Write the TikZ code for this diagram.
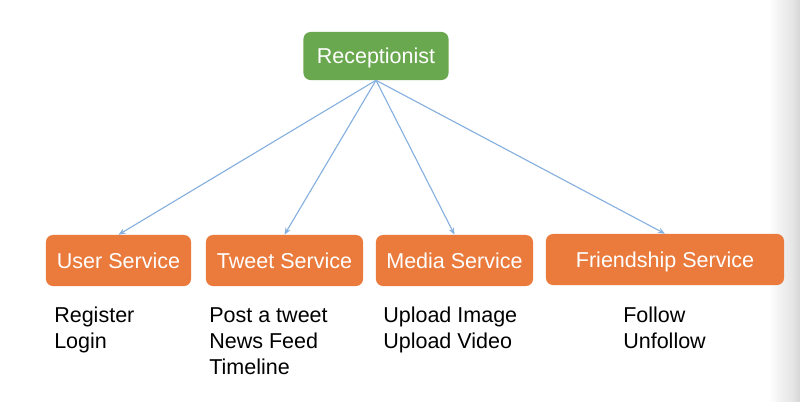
\documentclass[tikz,border=0pt]{standalone}
\usepackage{fontspec}
\setmainfont{Liberation Sans}
\usetikzlibrary{arrows.meta,positioning}
\definecolor{recepgreen}{HTML}{6AA84F}
\definecolor{serviceorange}{HTML}{EA7B3C}
\definecolor{linkblue}{HTML}{86B0E0}
\tikzset{
  diagram/.style={
    x=0.025cm, y=-0.025cm,
    box/.style={rounded corners=5pt, text=white, inner sep=0pt,
        text height=11pt, text depth=0pt,
        font={\fontsize{15.3}{18.5}\selectfont}},
    recep box/.style={box, fill=recepgreen, minimum width=3.625cm, minimum height=1.2cm},
    service box/.style={box, fill=serviceorange, minimum height=1.275cm},
    link/.style={linkblue, line width=0.8pt, -{Stealth[length=5pt,width=4pt]}},
    task list/.style={anchor=north west, align=left, inner sep=0pt,
        font={\fontsize{15.3}{18.5}\selectfont}},
  }
}

\begin{document}
\begin{tikzpicture}[diagram]
    \fill[white] (0,0) rectangle (800,401);
    \useasboundingbox (0,0) rectangle (800,401);
    % slide edge
    \fill[left color=white, right color=black!10] (768,0) rectangle (792,401);
    \fill[left color=black!10, right color=black!16] (792,0) rectangle (800,401);

    \node[recep box] (recep) at (376,56) {Receptionist};

    \node[service box, minimum width=3.625cm] (user)   at (118.5,260.5) {User Service};
    \node[service box, minimum width=3.925cm] (tweet)  at (284.5,260.5) {Tweet Service};
    \node[service box, minimum width=3.925cm] (media)  at (454.5,260.5) {Media Service};
    \node[service box, minimum width=5.95cm]  (friend) at (665,259.5) {Friendship Service};

    \foreach \s in {user,tweet,media,friend}
        \draw[link] (recep.south) -- (\s.north);

    \node[task list] (user tasks)   at (54,307)  {Register\\Login};
    \node[task list] (tweet tasks)  at (209,307) {Post a tweet\\News Feed\\Timeline};
    \node[task list] (media tasks)  at (383,307) {Upload Image\\Upload Video};
    \node[task list] (friend tasks) at (623,307) {Follow\\Unfollow};
\end{tikzpicture}
\end{document}
